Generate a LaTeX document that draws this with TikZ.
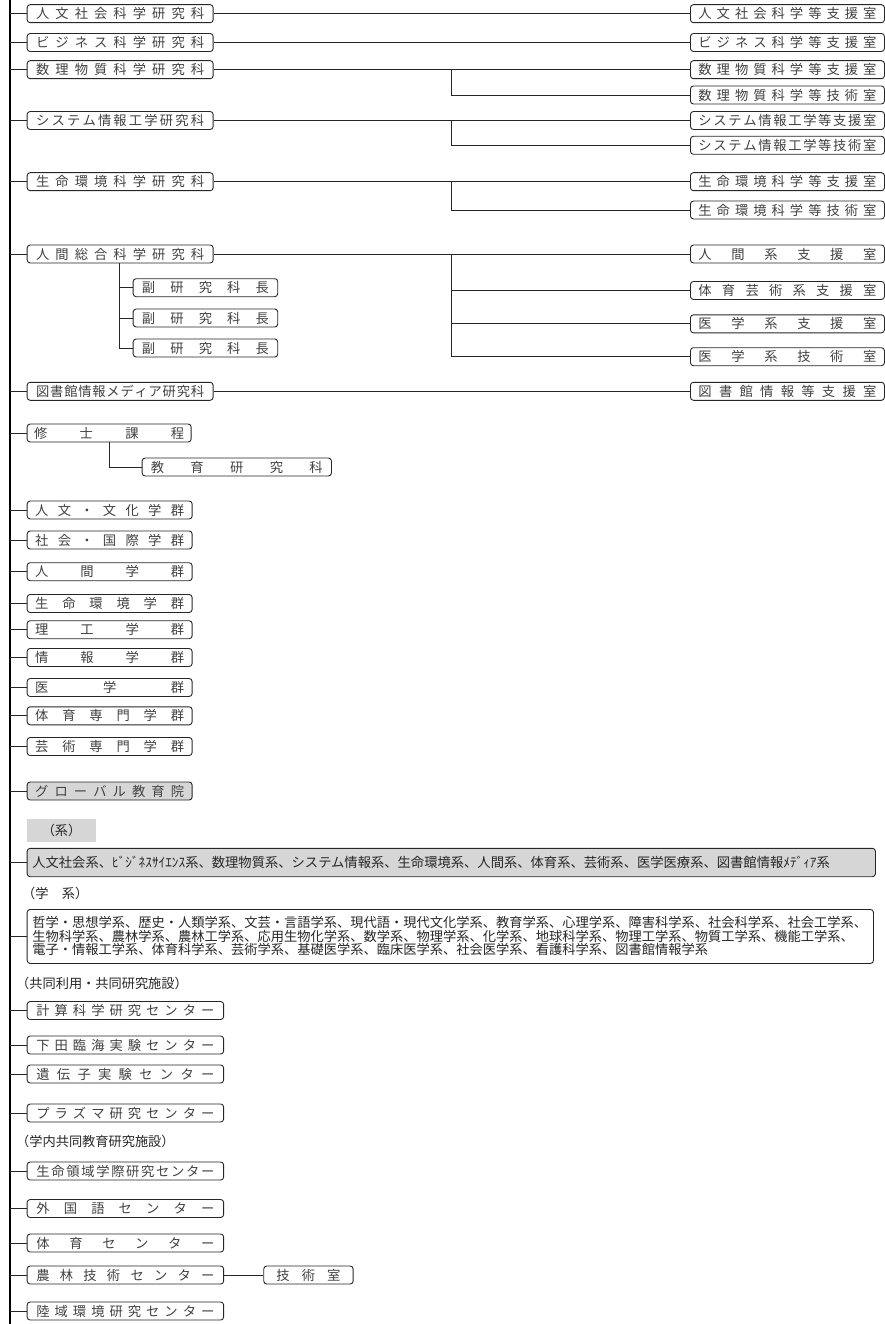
\documentclass[tikz,border=0pt]{standalone}
\usepackage{fontspec}
\setmainfont{Noto Sans CJK JP}
\makeatletter
\newcommand\sprd[2]{\makebox[#1][s]{\sprd@a#2\relax}}
\def\sprd@a#1{#1\@ifnextchar\relax{\@gobble}{\hfill\sprd@a}}
\makeatother
\tikzset{
  bx/.style={draw=black!85, line width=0.9pt, rounded corners=3pt, minimum height=18pt,
    inner sep=0pt, anchor=west, text=black!75, font=\fontsize{13.3}{14}\selectfont},
  gbx/.style={bx, fill=black!16},
  ln/.style={line width=0.9pt, draw=black!85},
  trunkln/.style={line width=2pt, draw=black},
  lbl/.style={anchor=west, inner sep=0pt, text=black!85, font=\fontsize{13.2}{14}\selectfont},
}
\begin{document}
\begin{tikzpicture}[x=1pt,y=-1pt]
\useasboundingbox (0,0) rectangle (885,1324);
\coordinate (tt) at (10,0);
\coordinate (tb) at (10,1324);
\coordinate (jx) at (451.7,0);
\coordinate (sx) at (119.3,0);
\coordinate (mx) at (109.3,0);
\draw[trunkln] (tt) -- (tb);

% graduate schools
\node[bx, minimum width=186pt] (k1) at (26.7,13.7) {\sprd{168pt}{人文社会科学研究科}};
\node[bx, minimum width=186pt] (k2) at (26.7,42.5) {\sprd{168pt}{ビジネス科学研究科}};
\node[bx, minimum width=186pt] (k3) at (26.7,69.7) {\sprd{168pt}{数理物質科学研究科}};
\node[bx, minimum width=186pt] (k4) at (26.7,120.5) {\sprd{168pt}{システム情報工学研究科}};
\node[bx, minimum width=186pt] (k5) at (26.7,181.7) {\sprd{168pt}{生命環境科学研究科}};
\node[bx, minimum width=186pt] (k6) at (26.7,254) {\sprd{168pt}{人間総合科学研究科}};
\node[bx, minimum width=186pt] (k7) at (26.7,391.3) {\sprd{168pt}{図書館情報メディア研究科}};

% support offices
\node[bx, minimum width=194pt] (r1) at (690,13.7) {\sprd{178pt}{人文社会科学等支援室}};
\node[bx, minimum width=194pt] (r2) at (690,42.5) {\sprd{178pt}{ビジネス科学等支援室}};
\node[bx, minimum width=194pt] (r3) at (690,69.7) {\sprd{178pt}{数理物質科学等支援室}};
\node[bx, minimum width=194pt] (r4) at (690,95) {\sprd{178pt}{数理物質科学等技術室}};
\node[bx, minimum width=194pt] (r5) at (690,120.5) {\sprd{178pt}{システム情報工学等支援室}};
\node[bx, minimum width=194pt] (r6) at (690,145.3) {\sprd{178pt}{システム情報工学等技術室}};
\node[bx, minimum width=194pt] (r7) at (690,181.7) {\sprd{178pt}{生命環境科学等支援室}};
\node[bx, minimum width=194pt] (r8) at (690,210) {\sprd{178pt}{生命環境科学等技術室}};
\node[bx, minimum width=194pt] (r9) at (690,254) {\sprd{178pt}{人間系支援室}};
\node[bx, minimum width=194pt] (r10) at (690,290.5) {\sprd{178pt}{体育芸術系支援室}};
\node[bx, minimum width=194pt] (r11) at (690,323.8) {\sprd{178pt}{医学系支援室}};
\node[bx, minimum width=194pt] (r12) at (690,356.7) {\sprd{178pt}{医学系技術室}};
\node[bx, minimum width=194pt] (r13) at (690,391.3) {\sprd{178pt}{図書館情報等支援室}};

% vice deans
\node[bx, minimum width=144.6pt] (v1) at (132.7,287.7) {\sprd{127pt}{副研究科長}};
\node[bx, minimum width=144.6pt] (v2) at (132.7,318) {\sprd{127pt}{副研究科長}};
\node[bx, minimum width=144.6pt] (v3) at (132.7,348) {\sprd{127pt}{副研究科長}};

% master
\node[bx, minimum width=164pt] (m1) at (26.7,433) {\sprd{150pt}{修士課程}};
\node[bx, minimum width=189.3pt] (m2) at (141.7,467) {\sprd{172pt}{教育研究科}};

% school clusters
\node[bx, minimum width=165pt] (g1) at (26.7,510) {\sprd{149pt}{人文・文化学群}};
\node[bx, minimum width=165pt] (g2) at (26.7,540) {\sprd{149pt}{社会・国際学群}};
\node[bx, minimum width=165pt] (g3) at (26.7,571.7) {\sprd{149pt}{人間学群}};
\node[bx, minimum width=165pt] (g4) at (26.7,603.5) {\sprd{149pt}{生命環境学群}};
\node[bx, minimum width=165pt] (g5) at (26.7,629.7) {\sprd{149pt}{理工学群}};
\node[bx, minimum width=165pt] (g6) at (26.7,657.5) {\sprd{149pt}{情報学群}};
\node[bx, minimum width=165pt] (g7) at (26.7,687.5) {\sprd{149pt}{医学群}};
\node[bx, minimum width=165pt] (g8) at (26.7,715.8) {\sprd{149pt}{体育専門学群}};
\node[bx, minimum width=165pt] (g9) at (26.7,746.5) {\sprd{149pt}{芸術専門学群}};
\node[gbx, minimum width=165pt] (g10) at (26.7,791) {\sprd{149pt}{グローバル教育院}};

% kei
\node[fill=black!16, minimum width=69.3pt, minimum height=22.7pt, anchor=north west, inner sep=0pt,
  text=black!85, font=\fontsize{13.2}{14}\selectfont] (keil) at (26.7,819) {（系）};
\node[gbx, minimum width=848.3pt, minimum height=28.4pt, text width=838pt, inner xsep=5pt, align=left,
  text=black!85] (kei) at (26.7,862.5)
  {人文社会系、ﾋﾞｼﾞﾈｽｻｲｴﾝｽ系、数理物質系、システム情報系、生命環境系、人間系、体育系、芸術系、医学医療系、図書館情報ﾒﾃﾞｨｱ系};

% gakkei
\node[lbl] (gkl) at (22,893) {（学　系）};
\node[bx, anchor=north west, minimum width=846.3pt, minimum height=54pt, text width=836pt, inner xsep=5pt,
  align=left, text=black!85, font=\fontsize{13.25}{13.5}\selectfont] (gk) at (26.7,909)
  {哲学・思想学系、歴史・人類学系、文芸・言語学系、現代語・現代文化学系、教育学系、心理学系、障害科学系、社会科学系、社会工学系、\\
   生物科学系、農林学系、農林工学系、応用生物化学系、数学系、物理学系、化学系、地球科学系、物理工学系、物質工学系、機能工学系、\\
   電子・情報工学系、体育科学系、芸術学系、基礎医学系、臨床医学系、社会医学系、看護科学系、図書館情報学系};

% centers
\node[lbl] (c0) at (16,983) {（共同利用・共同研究施設）};
\node[bx, minimum width=196.5pt] (c1) at (26.7,1010.5) {\sprd{178pt}{計算科学研究センター}};
\node[bx, minimum width=196.5pt] (c2) at (26.7,1045) {\sprd{178pt}{下田臨海実験センター}};
\node[bx, minimum width=196.5pt] (c3) at (26.7,1074) {\sprd{178pt}{遺伝子実験センター}};
\node[bx, minimum width=196.5pt] (c4) at (26.7,1113) {\sprd{178pt}{プラズマ研究センター}};
\node[lbl] (d0) at (16,1141.7) {（学内共同教育研究施設）};
\node[bx, minimum width=196.5pt] (d1) at (26.7,1171) {\sprd{178pt}{生命領域学際研究センター}};
\node[bx, minimum width=196.5pt] (d2) at (26.7,1208.5) {\sprd{178pt}{外国語センター}};
\node[bx, minimum width=196.5pt] (d3) at (26.7,1243) {\sprd{178pt}{体育センター}};
\node[bx, minimum width=196.5pt] (d4) at (26.7,1275) {\sprd{178pt}{農林技術センター}};
\node[bx, minimum width=196.5pt] (d5) at (26.7,1311) {\sprd{178pt}{陸域環境研究センター}};
\node[bx, minimum width=89.4pt] (d6) at (263.3,1275) {\sprd{64pt}{技術室}};

% trunk connectors
\foreach \n in {k1,k2,k3,k4,k5,k6,k7,m1,g1,g2,g3,g4,g5,g6,g7,g8,g9,g10,kei,gk,c1,c2,c3,c4,d1,d2,d3,d4,d5}
  \draw[ln] (tt |- \n.west) -- (\n.west);

% to offices
\draw[ln] (k1.east) -- (r1.west);
\draw[ln] (k2.east) -- (r2.west);
\draw[ln] (k3.east) -- (r3.west);
\draw[ln] (jx |- k3.east) |- (r4.west);
\draw[ln] (k4.east) -- (r5.west);
\draw[ln] (jx |- k4.east) |- (r6.west);
\draw[ln] (k5.east) -- (r7.west);
\draw[ln] (jx |- k5.east) |- (r8.west);
\draw[ln] (k6.east) -- (r9.west);
\draw[ln] (jx |- k6.east) |- (r10.west);
\draw[ln] (jx |- k6.east) |- (r11.west);
\draw[ln] (jx |- k6.east) |- (r12.west);
\draw[ln] (k7.east) -- (r13.west);

% vice deans
\draw[ln] (sx |- k6.south) |- (v1.west);
\draw[ln] (sx |- k6.south) |- (v2.west);
\draw[ln] (sx |- k6.south) |- (v3.west);

% master
\draw[ln] (mx |- m1.south) |- (m2.west);

% technical office
\draw[ln] (d4.east) -- (d6.west);
\end{tikzpicture}
\end{document}
